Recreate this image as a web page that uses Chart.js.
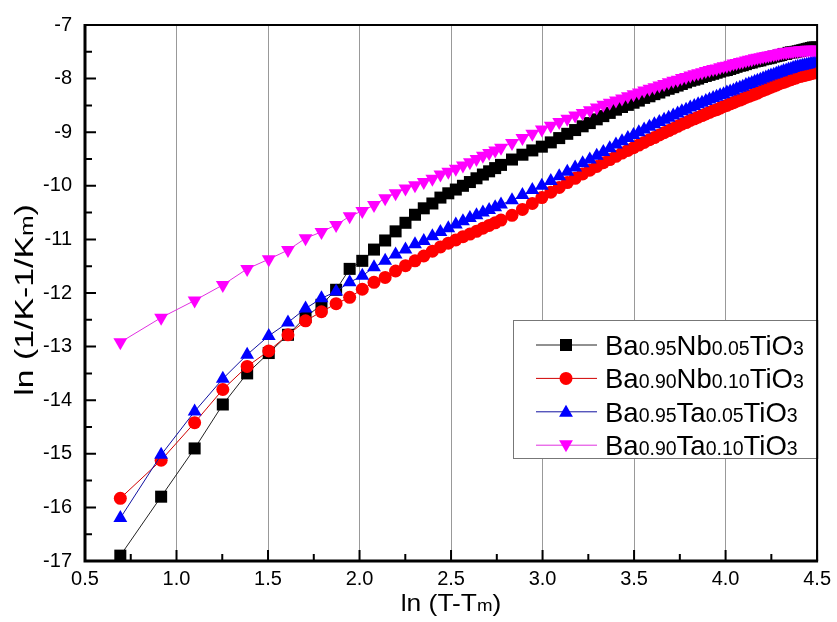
<!DOCTYPE html>
<html><head><meta charset="utf-8">
<script src="https://cdn.jsdelivr.net/npm/chart.js@4.4.0/dist/chart.umd.min.js"></script>
<style>html,body{margin:0;padding:0;background:#fff;}canvas{display:block}</style>
</head><body>
<canvas id="c" width="837" height="622"></canvas>
<script>
// x values: ln(T - Tm)
const lnDT = [0.693,0.916,1.099,1.253,1.386,1.504,1.609,1.705,1.792,1.872,1.946,2.015,2.079,2.140,2.197,2.251,2.303,2.351,2.398,2.442,2.485,2.526,2.565,2.603,2.639,2.674,2.708,2.741,2.773,
 2.833,2.890,2.944,2.996,3.045,3.091,3.135,3.178,3.219,3.258,3.296,3.332,3.367,3.401,
 3.434,3.466,3.497,3.526,3.555,3.584,3.611,3.638,3.664,3.689,3.714,3.738,3.761,3.784,3.807,3.829,3.850,3.871,3.892,3.912,
 3.932,3.951,3.970,3.989,4.007,4.025,4.043,4.060,4.078,4.094,4.111,4.127,4.143,4.159,4.174,4.190,4.205,4.220,4.234,4.248,
 4.263,4.277,4.290,4.304,4.317,4.331,4.344,4.357,4.369,4.382,4.394,4.407,4.419,4.431,4.443,4.454,4.466,4.477,4.489,4.500];
// y values: ln(1/K - 1/Km)
const nb005 = [-16.90,-15.80,-14.90,-14.08,-13.50,-13.12,-12.78,-12.45,-12.22,-11.94,-11.55,-11.40,-11.19,-11.02,-10.85,-10.69,-10.54,-10.42,-10.33,-10.22,-10.14,-10.07,-10.00,-9.93,-9.86,-9.79,-9.73,-9.67,-9.61,
 -9.51,-9.42,-9.34,-9.27,-9.19,-9.11,-9.03,-8.96,-8.89,-8.83,-8.76,-8.70,-8.64,-8.58,
 -8.53,-8.49,-8.45,-8.41,-8.36,-8.33,-8.29,-8.26,-8.22,-8.19,-8.16,-8.13,-8.10,-8.07,-8.04,-8.02,-8.00,-7.97,-7.95,-7.93,
 -7.91,-7.89,-7.87,-7.85,-7.84,-7.82,-7.80,-7.78,-7.76,-7.75,-7.73,-7.71,-7.70,-7.68,-7.67,-7.66,-7.64,-7.63,-7.62,-7.61,
 -7.59,-7.58,-7.57,-7.56,-7.54,-7.54,-7.52,-7.51,-7.51,-7.50,-7.49,-7.48,-7.47,-7.46,-7.45,-7.44,-7.43,-7.42,-7.42,-7.42];
const nb010 = [-15.83,-15.12,-14.42,-13.80,-13.37,-13.08,-12.78,-12.52,-12.35,-12.20,-12.08,-11.93,-11.80,-11.71,-11.59,-11.49,-11.40,-11.31,-11.22,-11.14,-11.07,-11.01,-10.95,-10.90,-10.85,-10.79,-10.74,-10.69,-10.64,
 -10.55,-10.44,-10.33,-10.22,-10.12,-10.03,-9.94,-9.86,-9.78,-9.71,-9.64,-9.57,-9.51,-9.45,
 -9.39,-9.34,-9.29,-9.24,-9.19,-9.14,-9.10,-9.05,-9.01,-8.97,-8.93,-8.89,-8.85,-8.82,-8.78,-8.75,-8.72,-8.69,-8.66,-8.63,
 -8.60,-8.58,-8.55,-8.52,-8.50,-8.47,-8.45,-8.42,-8.40,-8.38,-8.35,-8.33,-8.31,-8.29,-8.27,-8.24,-8.22,-8.20,-8.18,-8.16,
 -8.14,-8.12,-8.10,-8.08,-8.07,-8.05,-8.03,-8.02,-8.00,-7.99,-7.97,-7.96,-7.95,-7.94,-7.93,-7.92,-7.91,-7.90,-7.89,-7.88];
const ta005 = [-16.20,-15.02,-14.21,-13.60,-13.15,-12.80,-12.55,-12.29,-12.10,-11.97,-11.80,-11.68,-11.52,-11.40,-11.28,-11.19,-11.09,-11.03,-10.94,-10.86,-10.79,-10.72,-10.66,-10.60,-10.55,-10.50,-10.45,-10.40,-10.35,
 -10.27,-10.17,-10.08,-10.00,-9.91,-9.82,-9.74,-9.66,-9.58,-9.51,-9.44,-9.37,-9.30,-9.23,
 -9.17,-9.11,-9.05,-9.00,-8.95,-8.90,-8.85,-8.81,-8.77,-8.73,-8.69,-8.65,-8.61,-8.58,-8.54,-8.51,-8.48,-8.45,-8.42,-8.39,
 -8.36,-8.34,-8.31,-8.29,-8.26,-8.24,-8.22,-8.19,-8.17,-8.15,-8.12,-8.10,-8.08,-8.06,-8.04,-8.02,-8.00,-7.98,-7.96,-7.94,
 -7.93,-7.91,-7.89,-7.88,-7.86,-7.85,-7.83,-7.82,-7.80,-7.79,-7.78,-7.77,-7.76,-7.75,-7.74,-7.73,-7.72,-7.71,-7.70,-7.70];
const ta010 = [-12.92,-12.46,-12.14,-11.85,-11.55,-11.37,-11.20,-10.98,-10.86,-10.73,-10.57,-10.47,-10.36,-10.23,-10.14,-10.05,-9.99,-9.93,-9.87,-9.79,-9.74,-9.68,-9.62,-9.56,-9.50,-9.44,-9.39,-9.34,-9.29,
 -9.20,-9.11,-9.03,-8.95,-8.88,-8.81,-8.75,-8.69,-8.64,-8.59,-8.54,-8.49,-8.45,-8.41,
 -8.37,-8.33,-8.29,-8.26,-8.22,-8.19,-8.16,-8.13,-8.10,-8.07,-8.04,-8.02,-7.99,-7.97,-7.94,-7.92,-7.90,-7.88,-7.86,-7.84,
 -7.82,-7.81,-7.79,-7.77,-7.76,-7.74,-7.72,-7.71,-7.69,-7.68,-7.66,-7.65,-7.64,-7.62,-7.61,-7.60,-7.59,-7.58,-7.57,-7.56,
 -7.55,-7.54,-7.53,-7.52,-7.51,-7.51,-7.50,-7.49,-7.49,-7.48,-7.48,-7.47,-7.47,-7.47,-7.46,-7.46,-7.46,-7.46,-7.46,-7.46];

// legend labels as [text, isSmall] pieces
const names = [
  [["Ba",0],["0.95",1],["Nb",0],["0.05",1],["TiO",0],["3",1]],
  [["Ba",0],["0.90",1],["Nb",0],["0.10",1],["TiO",0],["3",1]],
  [["Ba",0],["0.95",1],["Ta",0],["0.05",1],["TiO",0],["3",1]],
  [["Ba",0],["0.90",1],["Ta",0],["0.10",1],["TiO",0],["3",1]]
];
const xTitle = [["ln (T-T",0],["m",1],[")",0]];
const yTitle = [["ln (1/K-1/K",0],["m",1],[")",0]];
const xRange = [0.5, 4.5], xStep = 0.5;
const yRange = [-17, -7], yStep = 1;

const FONT = "'Liberation Sans', Arial, sans-serif";
const styles = [
  {fill:'#000000', line:'#222222', shape:'rect', r:8.5, rot:0},
  {fill:'#ff0000', line:'#d00000', shape:'circle', r:6.5, rot:0},
  {fill:'#0000ff', line:'#1010a0', shape:'triangle', r:8, rot:0},
  {fill:'#ff00ff', line:'#e030e0', shape:'triangle', r:8, rot:180}
];
const series = [nb005, nb010, ta005, ta010];

function richWidth(ctx, segs, big, small){
  let w=0; for(const [t,s] of segs){ctx.font=(s?small:big)+'px '+FONT; w+=ctx.measureText(t).width;} return w;
}
function drawRich(ctx, segs, x, y, big, small){
  let cx=x; for(const [t,s] of segs){ctx.font=(s?small:big)+'px '+FONT; ctx.fillText(t,cx,y); cx+=ctx.measureText(t).width;} return cx-x;
}

const decor = {
  id:'decor',
  afterDraw(chart){
    const ctx=chart.ctx, a=chart.chartArea, xs=chart.scales.x, ys=chart.scales.y;
    ctx.save();
    // inward ticks
    ctx.strokeStyle='#000'; ctx.lineWidth=2;
    ctx.beginPath();
    for(let v=xRange[0]; v<=xRange[1]+1e-9; v+=xStep/2){
      const px=xs.getPixelForValue(v); const major=Math.abs(v/xStep-Math.round(v/xStep))<1e-6;
      ctx.moveTo(px,a.bottom); ctx.lineTo(px,a.bottom-(major?11:7));
    }
    for(let v=yRange[0]; v<=yRange[1]+1e-9; v+=yStep/2){
      const py=ys.getPixelForValue(v); const major=Math.abs(v/yStep-Math.round(v/yStep))<1e-6;
      ctx.moveTo(a.left,py); ctx.lineTo(a.left+(major?11:7),py);
    }
    ctx.stroke();
    // frame
    ctx.lineWidth=2;
    ctx.beginPath();
    ctx.moveTo(a.left,a.top); ctx.lineTo(a.right,a.top); ctx.lineTo(a.right,a.bottom);
    ctx.stroke();
    ctx.lineWidth=3;
    ctx.beginPath();
    ctx.moveTo(a.left,a.top-1); ctx.lineTo(a.left,a.bottom); ctx.lineTo(a.right+1,a.bottom);
    ctx.stroke();
    // legend box
    const lx=513, ly=320, lw=a.right-513, lh=138;
    ctx.fillStyle='#fff'; ctx.fillRect(lx,ly,lw,lh);
    ctx.strokeStyle='#777'; ctx.lineWidth=1; ctx.strokeRect(lx+0.5,ly+0.5,lw,lh);
    ctx.strokeStyle='#000'; ctx.lineWidth=2;
    ctx.beginPath(); ctx.moveTo(a.right,ly); ctx.lineTo(a.right,ly+lh+1); ctx.stroke();
    for(let i=0;i<4;i++){
      const yy=345+i*33.4, st=styles[i];
      ctx.strokeStyle=st.line; ctx.lineWidth=1;
      ctx.beginPath(); ctx.moveTo(536,yy); ctx.lineTo(597,yy); ctx.stroke();
      ctx.fillStyle=st.fill;
      Chart.helpers.drawPoint(ctx,{pointStyle:st.shape,radius:st.r,rotation:st.rot,borderWidth:0},566,yy+(st.shape==='triangle'?(st.rot?-1:1):0));
      ctx.fillStyle='#000'; ctx.textBaseline='alphabetic'; ctx.textAlign='left';
      drawRich(ctx,names[i],605,yy+10,27.5,19.5);
    }
    // axis titles
    ctx.fillStyle='#000';
    const xw=richWidth(ctx,xTitle,24,17);
    const xsx=1.1;
    ctx.save(); ctx.translate((a.left+a.right)/2 - xw*xsx/2, 611); ctx.scale(xsx,1);
    drawRich(ctx,xTitle,0,0,24,17); ctx.restore();
    const yw=richWidth(ctx,yTitle,26,19);
    const ysx=1.3;
    ctx.save(); ctx.translate(33, 300 + yw*ysx/2); ctx.rotate(-Math.PI/2); ctx.scale(ysx,1);
    drawRich(ctx,yTitle,0,0,26,19); ctx.restore();
    ctx.restore();
  }
};

const datasets = series.map((s,i)=>({
  label: names[i].map(p=>p[0]).join(''),
  data: lnDT.map((x,k)=>({x, y:s[k]})),
  showLine:true, borderColor:styles[i].line, borderWidth:1,
  pointStyle:styles[i].shape, pointRotation:styles[i].rot,
  pointRadius:styles[i].r, pointHoverRadius:styles[i].r,
  pointBackgroundColor:styles[i].fill, pointBorderWidth:0,
  backgroundColor:styles[i].fill, order:4-i, clip:0
}));

new Chart(document.getElementById('c'),{
  type:'scatter',
  data:{datasets},
  options:{
    responsive:false, animation:false, devicePixelRatio:1,
    layout:{padding:{left:0,top:18,right:16,bottom:0}},
    plugins:{legend:{display:false},tooltip:{enabled:false}},
    scales:{
      x:{type:'linear',min:xRange[0],max:xRange[1],
        ticks:{stepSize:xStep,callback:v=>v.toFixed(1),color:'#000',font:{family:FONT,size:20},padding:6,maxRotation:0,autoSkip:false},
        grid:{color:'#999999',lineWidth:1,drawTicks:false},
        border:{display:false},
        afterFit:s=>{s.height=61;}},
      y:{type:'linear',min:yRange[0],max:yRange[1],
        ticks:{stepSize:yStep,callback:v=>String(v),color:'#000',font:{family:FONT,size:20},padding:13},
        grid:{display:false,drawTicks:false},
        border:{display:false},
        afterFit:s=>{s.width=85;}}
    }
  },
  plugins:[decor]
});
</script>
</body></html>
